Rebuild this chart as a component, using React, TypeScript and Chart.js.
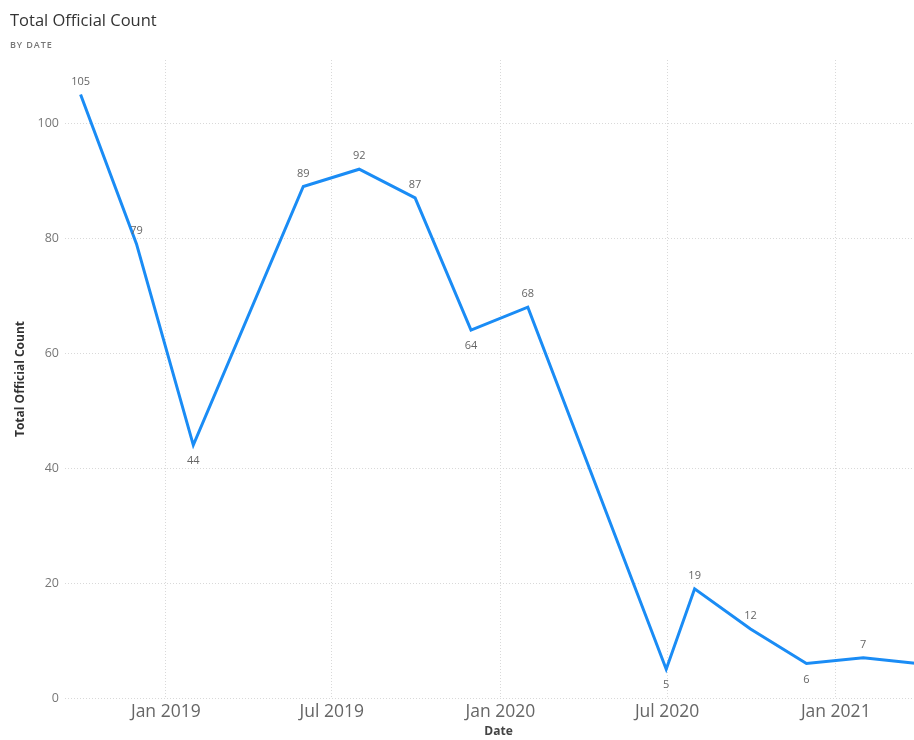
import React, { useEffect, useRef } from "react";
import { Chart, registerables } from "chart.js";

Chart.register(...registerables);

// Reporting dates (month ends) and the official count recorded for each
const reportDates = [
  "2018-09-30", "2018-11-30", "2019-01-31", "2019-05-31", "2019-07-31",
  "2019-09-30", "2019-11-30", "2020-01-31", "2020-06-30", "2020-07-31",
  "2020-09-30", "2020-11-30", "2021-01-31", "2021-03-31",
];
const officialCounts = [105, 79, 44, 89, 92, 87, 64, 68, 5, 19, 12, 6, 7, 6];

// Date axis ticks
const tickDates = ["2019-01-01", "2019-07-01", "2020-01-01", "2020-07-01", "2021-01-01"];
const tickLabels = ["Jan 2019", "Jul 2019", "Jan 2020", "Jul 2020", "Jan 2021"];
const axisStart = "2018-09-13";
const axisEnd = "2021-04-16";

// Count axis ticks
const countTicks = [0, 20, 40, 60, 80, 100];
const countMax = 111;

const DAY = 86400000;
const ORIGIN = Date.UTC(2019, 0, 1);
const toDay = (iso: string) => {
  const [y, m, d] = iso.split("-").map(Number);
  return Math.round((Date.UTC(y, m - 1, d) - ORIGIN) / DAY);
};

const FONT = "'Segoe UI', 'Open Sans', 'Noto Sans', sans-serif";

// Writes each point's value above it, or below it at local dips
const valueLabels = {
  id: "valueLabels",
  afterDatasetsDraw(chart: any) {
    const ctx = chart.ctx;
    const meta = chart.getDatasetMeta(0);
    const vals = chart.data.datasets[0].data.map((p: any) => p.y);
    ctx.save();
    ctx.font = `11px ${FONT}`;
    ctx.fillStyle = "#666666";
    ctx.textAlign = "center";
    ctx.textBaseline = "middle";
    meta.data.forEach((pt: any, i: number) => {
      const v = vals[i];
      const prev = i > 0 ? vals[i - 1] : Infinity;
      const next = i < vals.length - 1 ? vals[i + 1] : Infinity;
      const below = v < prev && v < next;
      ctx.fillText(String(v), pt.x, below ? pt.y + 16 : pt.y - 13);
    });
    ctx.restore();
  },
};

export default function App() {
  const canvasRef = useRef<HTMLCanvasElement | null>(null);

  useEffect(() => {
    if (!canvasRef.current) return;
    const points = reportDates.map((d, i) => ({ x: toDay(d), y: officialCounts[i] }));
    const tickDays = tickDates.map(toDay);
    const gridColor = "#d9d9d9";

    const chart = new Chart(canvasRef.current, {
      type: "line",
      data: {
        datasets: [
          {
            label: "Total Official Count",
            data: points,
            borderColor: "#1A8CF5",
            borderWidth: 3,
            pointRadius: 0,
            tension: 0,
            borderJoinStyle: "miter",
            fill: false,
          },
        ],
      },
      options: {
        animation: false,
        responsive: false,
        maintainAspectRatio: false,
        layout: { padding: { top: 60, left: 13, right: 8, bottom: 0 } },
        plugins: {
          legend: { display: false },
          tooltip: { enabled: false },
        },
        scales: {
          x: {
            type: "linear",
            min: toDay(axisStart),
            max: toDay(axisEnd),
            afterBuildTicks: (scale: any) => {
              scale.ticks = tickDays.map((v) => ({ value: v }));
            },
            afterFit: (scale: any) => {
              scale.height = 42;
            },
            ticks: {
              autoSkip: false,
              maxRotation: 0,
              padding: 4,
              color: "#666666",
              font: { family: FONT, size: 17.5 },
              callback: (v: any) => {
                const idx = tickDays.indexOf(Number(v));
                return idx >= 0 ? tickLabels[idx] : "";
              },
            },
            grid: { color: gridColor, lineWidth: 1, drawTicks: false },
            border: { display: false, dash: [1, 2] },
            title: {
              display: true,
              text: "Date",
              color: "#444444",
              font: { family: FONT, size: 12, weight: "bold" },
              padding: { top: 0, bottom: 1 },
            },
          },
          y: {
            type: "linear",
            min: 0,
            max: countMax,
            afterBuildTicks: (scale: any) => {
              scale.ticks = countTicks.map((v) => ({ value: v }));
            },
            afterFit: (scale: any) => {
              scale.width = 52;
            },
            ticks: {
              padding: 6,
              color: "#777777",
              font: { family: FONT, size: 12.5 },
            },
            grid: { color: gridColor, lineWidth: 1, drawTicks: false },
            border: { display: false, dash: [1, 2] },
            title: {
              display: true,
              text: "Total Official Count",
              color: "#333333",
              font: { family: FONT, size: 12, weight: "bold" },
              padding: { top: 0, bottom: 0 },
            },
          },
        },
      },
      plugins: [valueLabels],
    } as any);

    return () => chart.destroy();
  }, []);

  return (
    <div
      style={{
        position: "fixed",
        left: 0,
        top: 0,
        width: 914,
        height: 740,
        overflow: "hidden",
        background: "#ffffff",
      }}
    >
      <canvas
        ref={canvasRef}
        width={940}
        height={740}
        style={{ position: "absolute", left: 0, top: 0, width: 940, height: 740 }}
      />
      <div
        style={{
          position: "absolute",
          left: 10,
          top: 9,
          fontFamily: FONT,
          fontSize: 16.5,
          lineHeight: "22px",
          color: "#333333",
          whiteSpace: "nowrap",
        }}
      >
        Total Official Count
      </div>
      <div
        style={{
          position: "absolute",
          left: 10,
          top: 38,
          fontFamily: FONT,
          fontSize: 9,
          lineHeight: "13px",
          letterSpacing: 0.9,
          fontWeight: 600,
          color: "#777777",
          whiteSpace: "nowrap",
        }}
      >
        BY DATE
      </div>
    </div>
  );
}
